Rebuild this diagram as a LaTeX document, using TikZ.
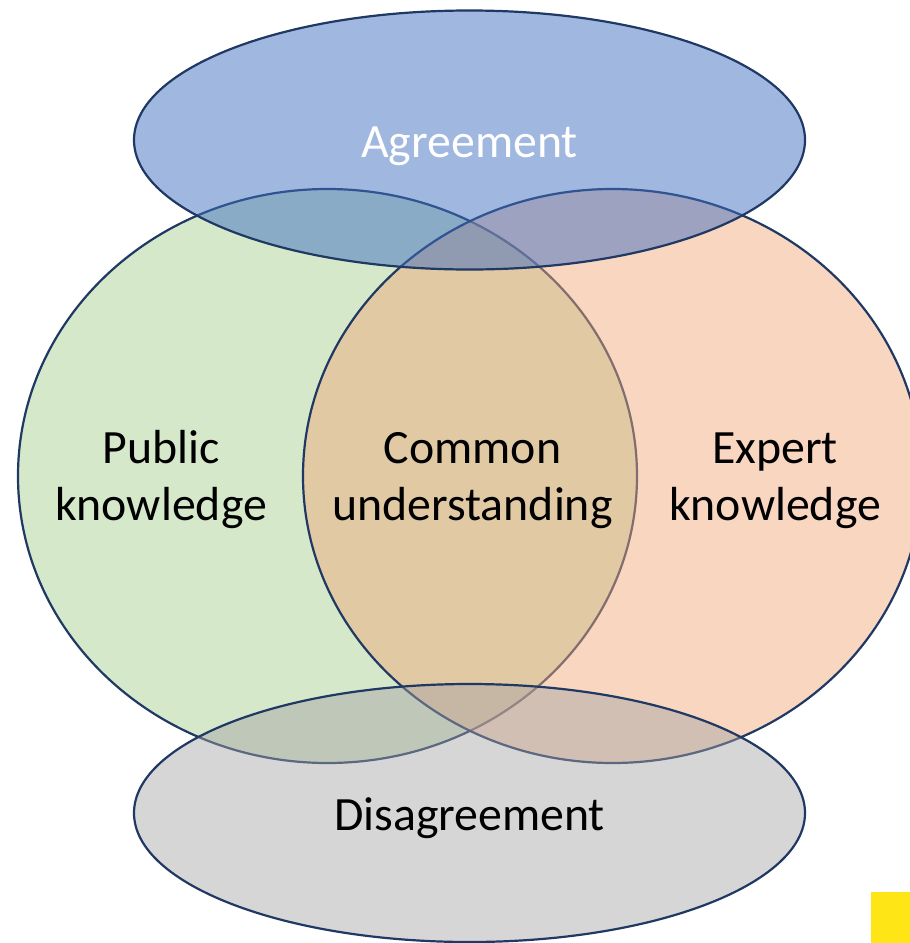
\documentclass[tikz,border=0pt]{standalone}
\usepackage{fontspec}
\setmainfont{Carlito}
\definecolor{edge}{HTML}{1F3864}
\definecolor{greenc}{RGB}{213,232,202}
\definecolor{orangec}{RGB}{240,169,121}
\definecolor{bluec}{RGB}{65,111,193}
\definecolor{grayc}{RGB}{165,163,164}
\definecolor{yellowc}{HTML}{FDE516}
\tikzset{
  venn/.style={draw=edge, line width=2.2pt},
  lbl/.style={font=\fontsize{47.8}{57}\selectfont, align=center, inner sep=0pt, anchor=base},
}
\begin{document}
\begin{tikzpicture}[x=1pt,y=-1pt]
\useasboundingbox (0,0) rectangle (910,943);
% public knowledge
\filldraw[venn, fill=greenc] (327.5,476) ellipse [x radius=309.5pt, y radius=287pt];
% expert knowledge
\filldraw[venn, fill=orangec, fill opacity=0.48] (612.5,476) ellipse [x radius=309.5pt, y radius=287pt];
% agreement
\filldraw[venn, fill=bluec, fill opacity=0.5] (469.5,140) ellipse [x radius=335.5pt, y radius=129.5pt];
% disagreement
\filldraw[venn, fill=grayc, fill opacity=0.45] (469.5,813) ellipse [x radius=335.5pt, y radius=129pt];
% yellow marker
\fill[yellowc] (871,892) rectangle (910,943);
\node[lbl, text=white] (agree) at (469.5,157) {Agreement};
\node[lbl] (pub) at (161,520) {Public\\knowledge};
\node[lbl] (common) at (472.5,520) {Common\\understanding};
\node[lbl] (expert) at (775,520) {Expert\\knowledge};
\node[lbl] (disagree) at (469.5,830) {Disagreement};
\end{tikzpicture}
\end{document}
